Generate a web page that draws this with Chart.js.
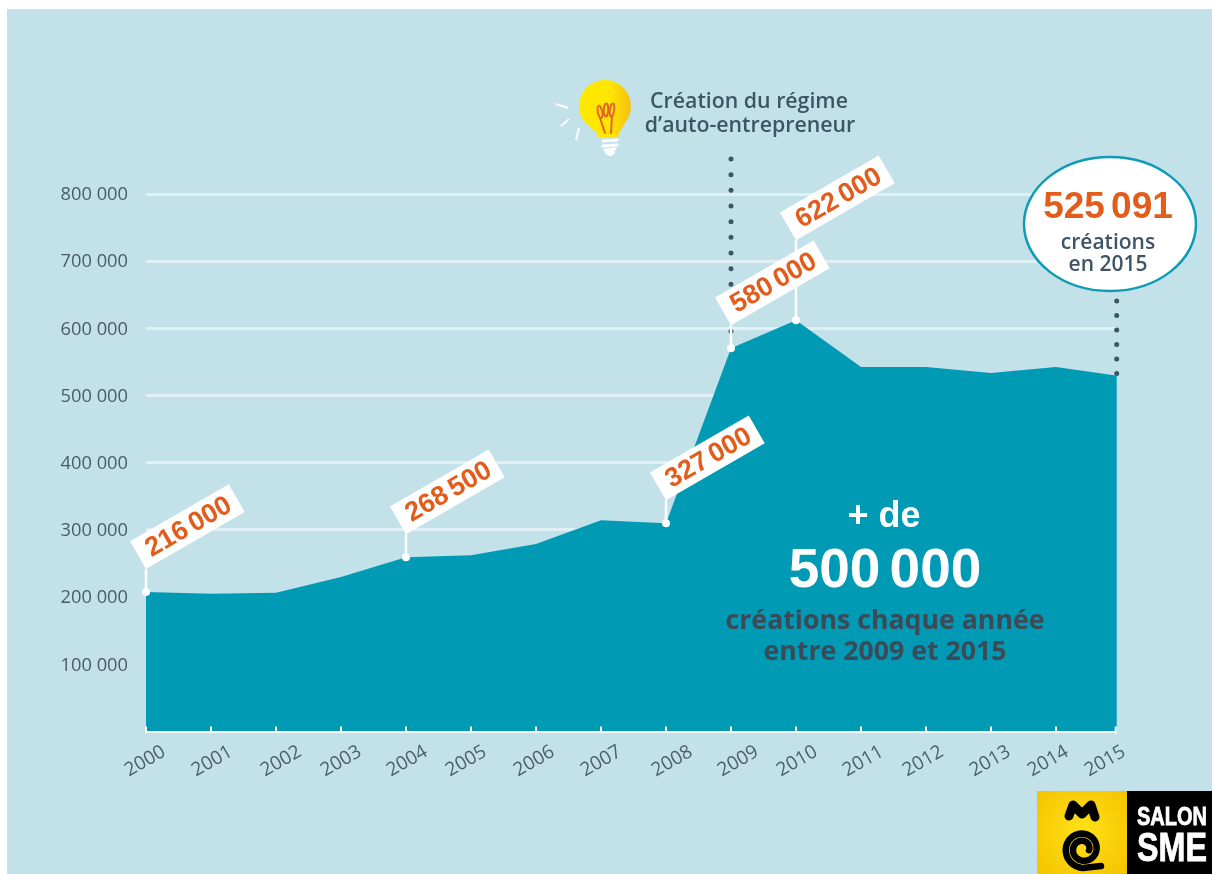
<!DOCTYPE html>
<html lang="fr">
<head>
    <meta charset="UTF-8">
    <title>Créations d'entreprises 2000-2015</title>
    <script src="https://cdn.jsdelivr.net/npm/chart.js"></script>
    <style>
        html, body {
            margin: 0;
            padding: 0;
            background: #ffffff;
            overflow: hidden;
        }
        canvas {
            display: block;
        }
    </style>
</head>
<body>
    <canvas id="creationsChart" width="1212" height="874"></canvas>

    <script>
        const years = ['2000', '2001', '2002', '2003', '2004', '2005', '2006', '2007',
                       '2008', '2009', '2010', '2011', '2012', '2013', '2014', '2015'];
        const creations = [207500, 205000, 206500, 230000, 259500, 262500, 279000, 314500,
                           310000, 570500, 612000, 542500, 542500, 533500, 542500, 528600];
        const yTickLabels = ['', '100 000', '200 000', '300 000', '400 000',
                             '500 000', '600 000', '700 000', '800 000'];
        const calloutYears = ['2000', '2004', '2008', '2009', '2010'];
        const calloutLabels = ['216\u200a\u200a000', '268\u200a\u200a500', '327\u200a\u200a000',
                               '580\u200a\u200a000', '622\u200a\u200a000'];

        const BACKGROUND = '#c2e1e9';
        const INK = '#3d5564';
        const ORANGE = '#e25c1c';
        const SANS = '"Open Sans", sans-serif';
        const ARIAL = '"Liberation Sans", Arial, sans-serif';
        // l'infographie s'arrête un peu avant le dernier pas de l'axe
        const AREA_END = 1116.7;
        // décalage à la main des années sous l'axe, comme sur l'original
        const yearNudges = [-1, 1, 5, 0, 1, -5, -2, 0, 6, 7, 1, 2, -3, -1, -8, -16];

        function drawText(ctx, text, x, y, font, color, maxWidth) {
            ctx.font = font;
            ctx.fillStyle = color;
            ctx.textAlign = 'center';
            ctx.textBaseline = 'middle';
            ctx.fillText(text, x, y, maxWidth);
        }

        function drawDots(ctx, x, top, bottom, gap) {
            ctx.save();
            ctx.strokeStyle = INK;
            ctx.lineWidth = 5;
            ctx.lineCap = 'round';
            ctx.setLineDash([0, gap]);
            ctx.beginPath();
            ctx.moveTo(x, top);
            ctx.lineTo(x, bottom);
            ctx.stroke();
            ctx.restore();
        }

        function drawCallouts(chart) {
            const ctx = chart.ctx;
            const xs = chart.scales.x;
            const ys = chart.scales.y;
            const spots = calloutYears.map((year, i) => {
                const index = years.indexOf(year);
                return {
                    x: xs.getPixelForValue(index),
                    y: ys.getPixelForValue(creations[index]),
                    stem: year === '2010' ? 80 : 23,
                    label: calloutLabels[i]
                };
            });

            // les tiges d'abord, pour que les étiquettes passent dessus
            ctx.strokeStyle = '#ffffff';
            ctx.lineWidth = 2.5;
            spots.forEach(s => {
                ctx.beginPath();
                ctx.moveTo(s.x, s.y);
                ctx.lineTo(s.x, s.y - s.stem);
                ctx.stroke();
            });

            spots.forEach(s => {
                ctx.save();
                ctx.translate(s.x, s.y - s.stem);
                ctx.rotate(-30 * Math.PI / 180);
                ctx.fillStyle = '#ffffff';
                ctx.fillRect(0, -32, 114, 32);
                drawText(ctx, s.label, 58, -15, 'bold 27px ' + ARIAL, ORANGE);
                ctx.restore();
            });
        }

        function drawBulb(ctx) {
            const glow = ctx.createLinearGradient(579, 106, 631, 106);
            glow.addColorStop(0, '#ffe900');
            glow.addColorStop(0.6, '#ffe600');
            glow.addColorStop(1, '#f4bf12');
            ctx.fillStyle = glow;
            ctx.beginPath();
            ctx.arc(605, 106, 26, 0.2 * Math.PI, 0.8 * Math.PI, true);
            ctx.lineTo(597, 133);
            ctx.lineTo(598, 137);
            ctx.lineTo(618, 137);
            ctx.lineTo(619, 133);
            ctx.closePath();
            ctx.fill();

            ctx.strokeStyle = '#e2662a';
            ctx.lineWidth = 2;
            ctx.lineCap = 'round';
            [[605, 133, 600, 118], [611, 133, 612, 116]].forEach(p => {
                ctx.beginPath();
                ctx.moveTo(p[0], p[1]);
                ctx.lineTo(p[2], p[3]);
                ctx.stroke();
            });
            [[600, 112, -0.2], [606, 110, 0.05], [612, 110, 0.15]].forEach(p => {
                ctx.beginPath();
                ctx.ellipse(p[0], p[1], 2.2, 6.5, p[2], 0, 2 * Math.PI);
                ctx.stroke();
            });

            ctx.strokeStyle = '#ffffff';
            ctx.lineWidth = 3;
            [[603, 141, 617, 140], [603, 146, 617, 145], [605, 150, 615, 149]].forEach(p => {
                ctx.beginPath();
                ctx.moveTo(p[0], p[1]);
                ctx.lineTo(p[2], p[3]);
                ctx.stroke();
            });
            ctx.beginPath();
            ctx.arc(610, 151, 5, 0, Math.PI);
            ctx.fillStyle = '#ffffff';
            ctx.fill();

            ctx.lineWidth = 2;
            ctx.lineCap = 'butt';
            [[556, 104, 568, 108], [561, 126, 569, 119], [576, 140, 579, 128]].forEach(p => {
                ctx.beginPath();
                ctx.moveTo(p[0], p[1]);
                ctx.lineTo(p[2], p[3]);
                ctx.stroke();
            });
        }

        function drawLogo(ctx) {
            const sun = ctx.createRadialGradient(1082, 832, 5, 1082, 832, 60);
            sun.addColorStop(0, '#ffdf17');
            sun.addColorStop(1, '#f4c300');
            ctx.fillStyle = sun;
            ctx.fillRect(1037, 791, 90, 83);
            ctx.fillStyle = '#000000';
            ctx.fillRect(1127, 791, 85, 83);

            ctx.strokeStyle = '#000000';
            ctx.lineWidth = 9;
            ctx.lineCap = 'round';
            ctx.lineJoin = 'round';
            ctx.beginPath();
            ctx.moveTo(1069, 816);
            ctx.lineTo(1073, 805);
            ctx.lineTo(1082, 814);
            ctx.lineTo(1091, 805);
            ctx.lineTo(1095, 817);
            ctx.stroke();

            // spirale du logo
            ctx.lineWidth = 6.5;
            ctx.beginPath();
            ctx.moveTo(1101, 866);
            for (let t = 0; t <= 1; t += 0.01) {
                const angle = 0.5 * Math.PI + 3.6 * Math.PI * t;
                const r = 19 - 13 * t;
                ctx.lineTo(1083 + r * Math.cos(angle), 849 + r * Math.sin(angle));
            }
            ctx.stroke();
            ctx.lineJoin = 'miter';

            ctx.strokeStyle = '#ffffff';
            ctx.lineWidth = 0.8;
            ctx.font = 'bold 25px ' + ARIAL;
            ctx.strokeText('SALON', 1172, 818, 70);
            drawText(ctx, 'SALON', 1172, 818, 'bold 25px ' + ARIAL, '#ffffff', 70);
            drawText(ctx, 'SME', 1172, 850, 'bold 40px ' + ARIAL, '#ffffff', 70);
            ctx.font = 'bold 40px ' + ARIAL;
            ctx.strokeText('SME', 1172, 850, 70);
        }

        function drawAnnotations(chart) {
            const ctx = chart.ctx;
            const xs = chart.scales.x;
            const area = chart.chartArea;
            ctx.save();

            // masque la fin de l'aire et de l'axe, puis referme l'axe avec son dernier trait
            ctx.fillStyle = BACKGROUND;
            ctx.fillRect(AREA_END, 190, 8, 545);
            ctx.fillStyle = '#ffffff';
            ctx.fillRect(AREA_END - 2, area.bottom - 5, 2, 7);

            drawDots(ctx, xs.getPixelForValue(years.indexOf('2009')), 159, 334, 15.67);
            drawDots(ctx, AREA_END, 301, 375, 14.5);
            drawCallouts(chart);

            // bulle 2015
            ctx.beginPath();
            ctx.ellipse(1110, 224, 86, 67, 0, 0, 2 * Math.PI);
            ctx.fillStyle = '#ffffff';
            ctx.fill();
            ctx.lineWidth = 2.5;
            ctx.strokeStyle = '#0f9ab5';
            ctx.stroke();
            drawText(ctx, '525\u200a\u200a091', 1108, 208, 'bold 37px ' + ARIAL, ORANGE);
            drawText(ctx, 'créations', 1108, 243, '600 21px ' + SANS, INK);
            drawText(ctx, 'en 2015', 1108, 265, '600 21px ' + SANS, INK);

            drawBulb(ctx);
            drawText(ctx, 'Création du régime', 749, 102, '600 21.3px ' + SANS, INK);
            drawText(ctx, 'd\u2019auto-entrepreneur', 750, 126, '600 21.3px ' + SANS, INK);

            drawText(ctx, '+ de', 884, 517, 'bold 36px ' + ARIAL, '#ffffff');
            drawText(ctx, '500\u200a\u200a000', 885, 572, 'bold 55px ' + ARIAL, '#ffffff');
            drawText(ctx, 'créations chaque année', 885, 621, 'bold 26.7px ' + SANS, '#3c4a57');
            drawText(ctx, 'entre 2009 et 2015', 885, 652, 'bold 26.7px ' + SANS, '#3c4a57');

            drawLogo(ctx);
            ctx.restore();
        }

        const infographicPlugin = {
            id: 'infographic',
            afterUpdate(chart) {
                const xs = chart.scales.x;
                xs.getLabelItems(chart.chartArea).forEach((item, i) => {
                    item.options.translation[0] += yearNudges[i];
                });
            },
            beforeDraw(chart) {
                const ctx = chart.ctx;
                ctx.save();
                ctx.fillStyle = BACKGROUND;
                ctx.fillRect(7, 9, chart.width - 7, chart.height - 9);
                ctx.restore();
            },
            afterDraw: drawAnnotations
        };

        new Chart(document.getElementById('creationsChart'), {
            type: 'line',
            plugins: [infographicPlugin],
            data: {
                labels: years,
                datasets: [{
                    data: creations,
                    fill: 'origin',
                    tension: 0,
                    backgroundColor: '#009ab5',
                    borderWidth: 0,
                    pointBackgroundColor: '#ffffff',
                    pointBorderWidth: 0,
                    pointRadius: ctx => calloutYears.includes(years[ctx.dataIndex]) ? 4 : 0,
                    clip: false
                }]
            },
            options: {
                responsive: false,
                animation: false,
                layout: {
                    padding: { left: 0, right: 91, top: 194, bottom: 52.5 }
                },
                plugins: {
                    legend: { display: false },
                    tooltip: { enabled: false }
                },
                scales: {
                    x: {
                        afterFit: scale => { scale.height = 90; },
                        border: { color: '#ffffff', width: 2, z: 1 },
                        grid: {
                            z: 1,
                            drawOnChartArea: false,
                            color: '#ffffff',
                            lineWidth: 2,
                            tickLength: -5
                        },
                        ticks: {
                            autoSkip: false,
                            minRotation: 30,
                            maxRotation: 30,
                            padding: 14,
                            labelOffset: 19,
                            color: '#4d5f6b',
                            font: { family: 'Open Sans', size: 19 }
                        }
                    },
                    y: {
                        min: 0,
                        max: 800000,
                        afterFit: scale => { scale.width = 146; },
                        border: { display: false },
                        grid: {
                            color: 'rgba(255, 255, 255, 0.5)',
                            lineWidth: 3,
                            drawTicks: false
                        },
                        ticks: {
                            stepSize: 100000,
                            padding: 18,
                            labelOffset: 1,
                            color: '#4a5c68',
                            font: { family: 'Open Sans', size: 18.3 },
                            callback: (value, index) => yTickLabels[index]
                        }
                    }
                }
            }
        });
    </script>
</body>
</html>
